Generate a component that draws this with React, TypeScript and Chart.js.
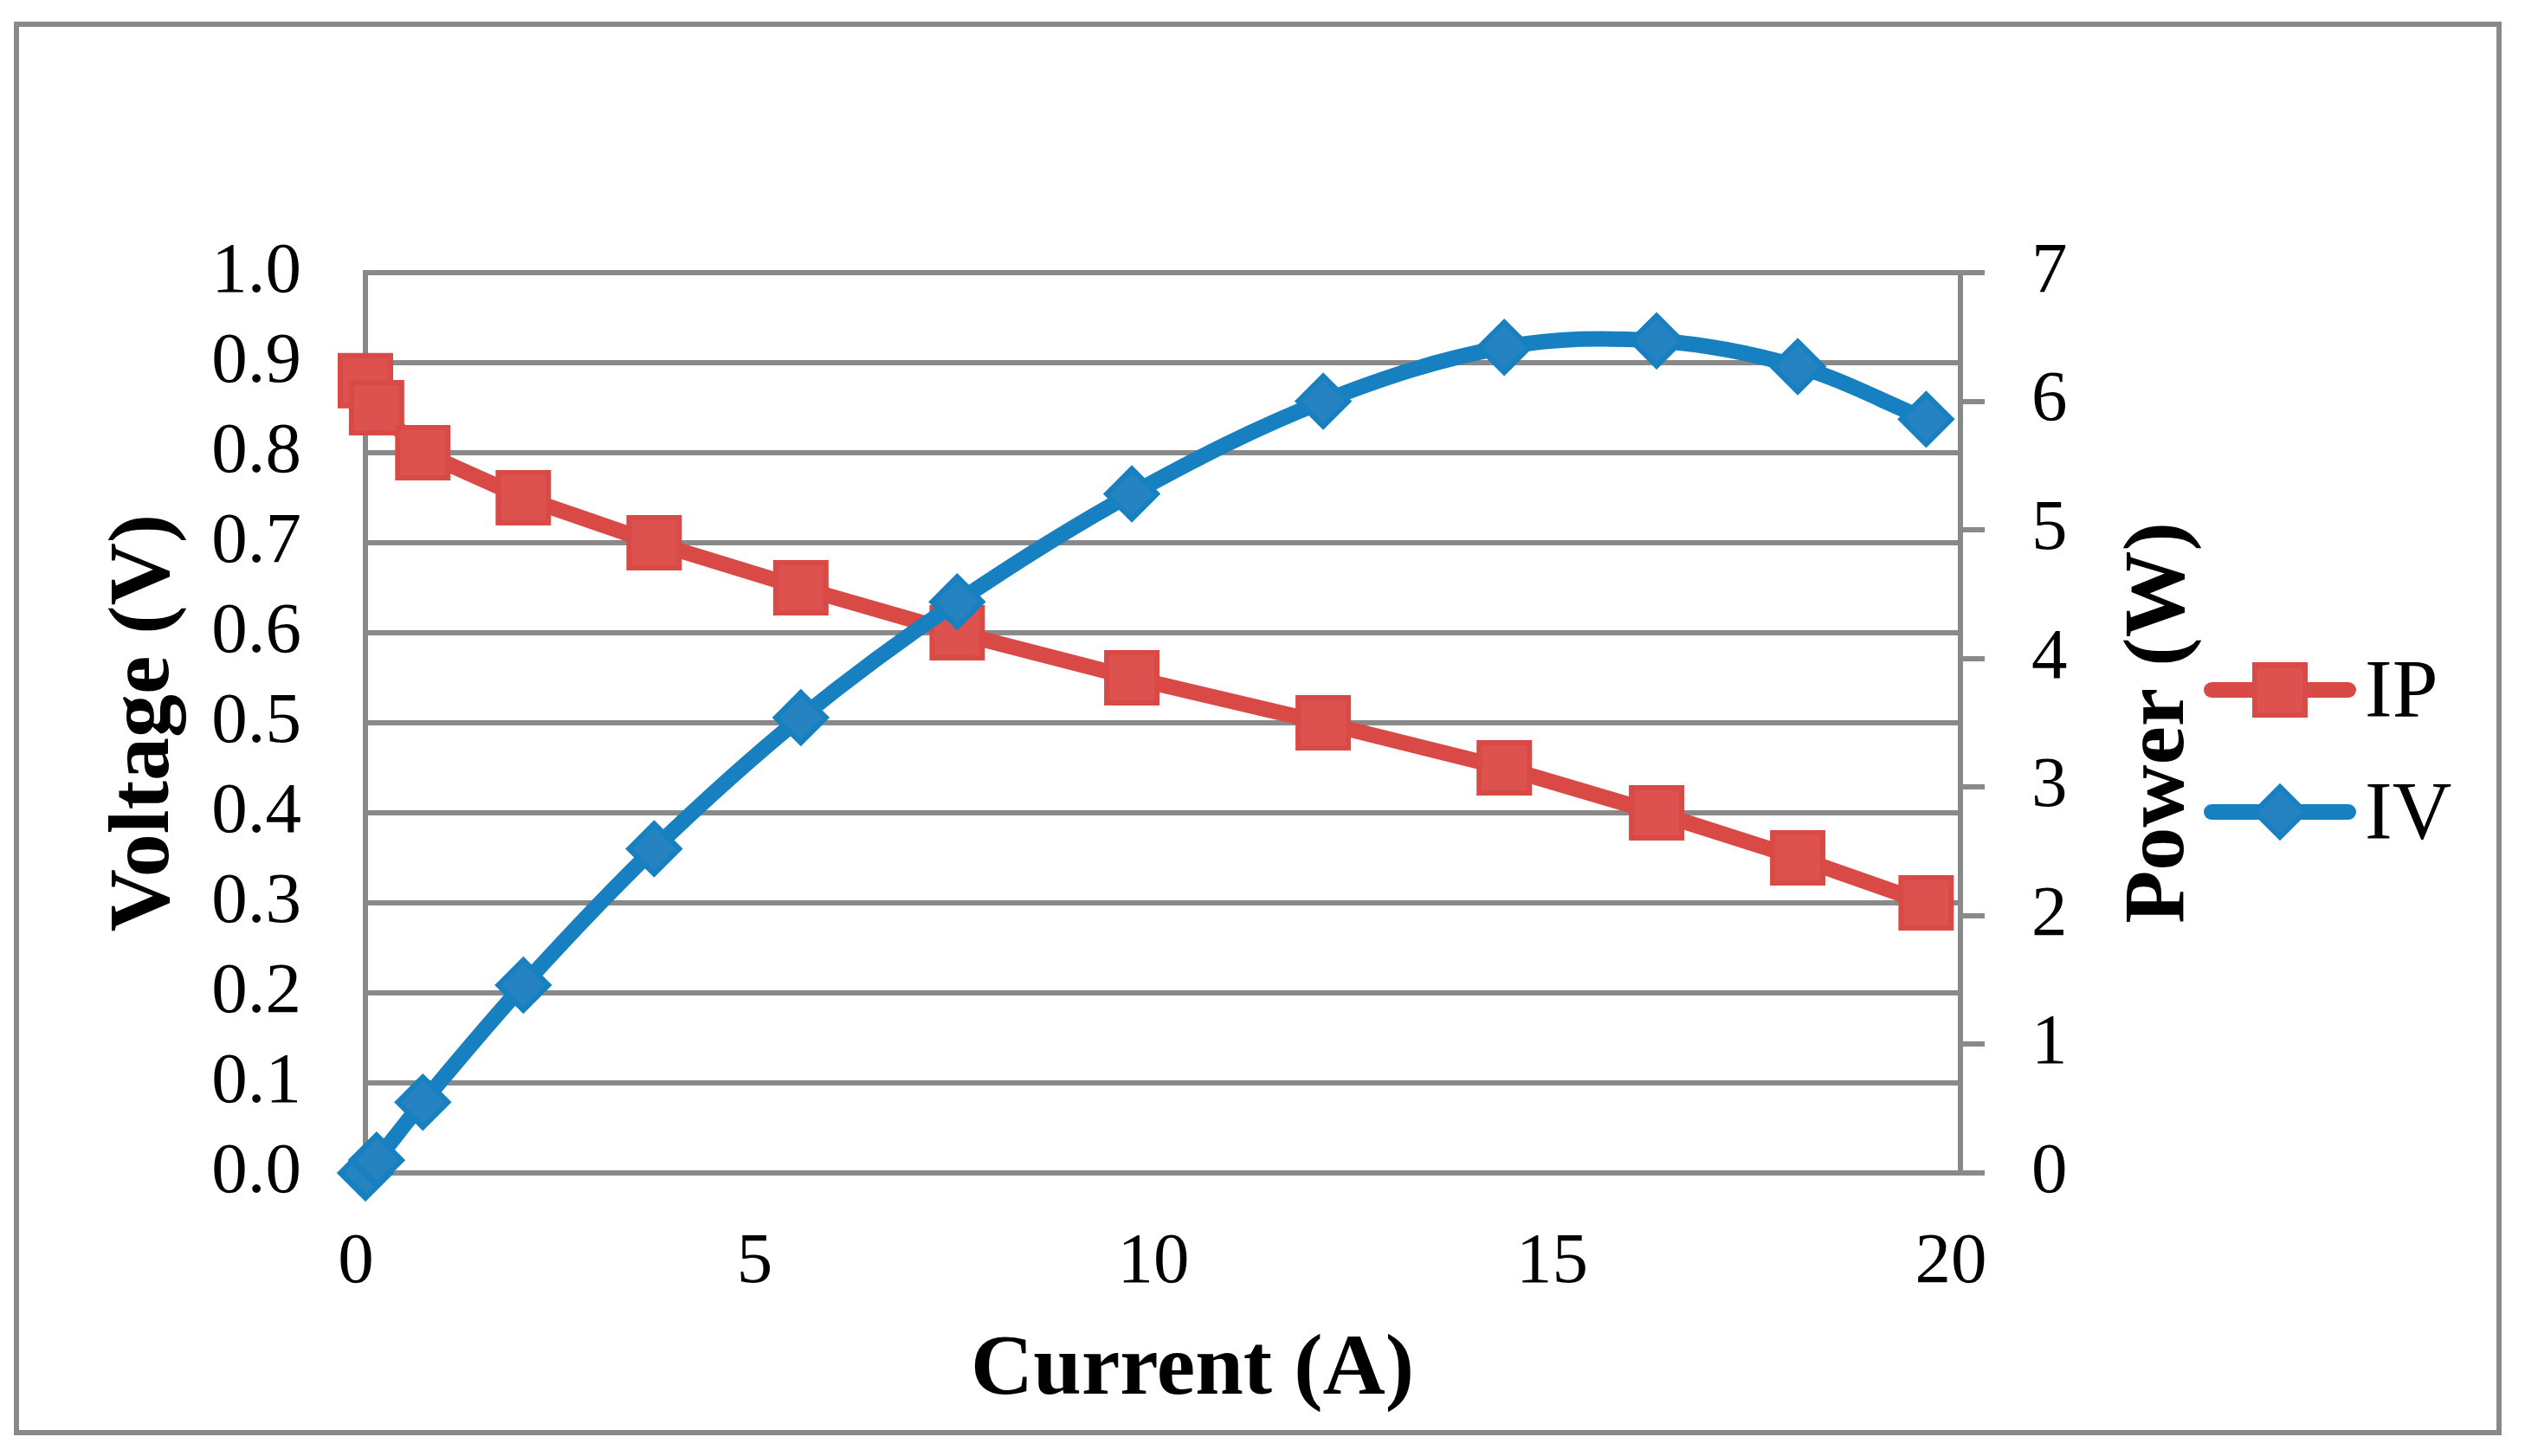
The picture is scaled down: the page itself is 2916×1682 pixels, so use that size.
import React, { useEffect, useRef } from 'react';
import { Chart, registerables } from 'chart.js';
import { drawPoint } from 'chart.js/helpers';

Chart.register(...registerables);

// ---- data ----
const currentA = [0, 0.14, 0.72, 1.98, 3.62, 5.46, 7.42, 9.61, 12.01, 14.28, 16.19, 17.96, 19.57];
const voltageV = [0.88, 0.85, 0.8, 0.75, 0.7, 0.65, 0.6, 0.55, 0.5, 0.45, 0.4, 0.35, 0.3];
const powerW = [0, 0.1, 0.55, 1.46, 2.52, 3.54, 4.44, 5.28, 6.0, 6.42, 6.47, 6.27, 5.86];
const seriesLabels = ['IP', 'IV'];
const xTitle = 'Current (A)';
const yTitle = 'Voltage (V)';
const y1Title = 'Power (W)';

// ---- styling ----
const W = 2916;
const H = 1682;
const GRID = '#898989';
const FONT = "'Liberation Serif', 'Times New Roman', Times, serif";
const RED_LINE = '#D94A47';
const RED_FILL = '#DD514E';
const BLUE_LINE = '#1780C1';
const BLUE_FILL = '#2683C2';

const framePlugin = {
  id: 'frame',
  beforeDraw(chart: any) {
    const ctx = chart.ctx;
    ctx.save();
    ctx.fillStyle = '#ffffff';
    ctx.fillRect(0, 0, chart.width, chart.height);
    ctx.strokeStyle = GRID;
    ctx.lineWidth = 6;
    ctx.strokeRect(19, 28, 2886 - 19, 1655 - 28);
    ctx.restore();
  },
};

const extrasPlugin = {
  id: 'extras',
  afterDraw(chart: any) {
    const ctx = chart.ctx;
    const area = chart.chartArea;
    ctx.save();
    ctx.fillStyle = '#000';
    // x axis title
    ctx.font = `bold 100px ${FONT}`;
    ctx.textAlign = 'center';
    ctx.textBaseline = 'alphabetic';
    ctx.fillText(xTitle, (area.left + area.right) / 2 + 34, 1610);
    // right axis title, reading bottom to top
    ctx.save();
    ctx.translate(2521, (area.top + area.bottom) / 2);
    ctx.rotate(-Math.PI / 2);
    ctx.fillText(y1Title, 0, 0);
    ctx.restore();

    // legend
    const rows = [797, 938];
    chart.data.datasets.forEach((ds: any, i: number) => {
      const y = rows[i];
      ctx.strokeStyle = ds.borderColor;
      ctx.lineWidth = ds.borderWidth;
      ctx.lineCap = 'round';
      ctx.beginPath();
      ctx.moveTo(2554, y);
      ctx.lineTo(2712, y);
      ctx.stroke();
      ctx.fillStyle = ds.pointBackgroundColor;
      ctx.strokeStyle = ds.pointBorderColor;
      ctx.lineWidth = ds.pointBorderWidth;
      ctx.lineCap = 'butt';
      drawPoint(ctx, { pointStyle: ds.pointStyle, rotation: 0, radius: ds.pointRadius, borderWidth: ds.pointBorderWidth }, 2633, y);
      ctx.fillStyle = '#000';
      ctx.font = `95px ${FONT}`;
      ctx.textAlign = 'left';
      ctx.textBaseline = 'alphabetic';
      ctx.fillText(ds.label, 2731, y + 31);
    });
    ctx.restore();
  },
};

export default function App() {
  const ref = useRef<HTMLCanvasElement>(null);

  useEffect(() => {
    document.body.style.margin = '0';
    const canvas = ref.current;
    if (!canvas) return;
    const chart = new Chart(canvas, {
      type: 'line',
      data: {
        datasets: [
          {
            label: seriesLabels[0],
            data: currentA.map((x, i) => ({ x, y: voltageV[i] })),
            yAxisID: 'y',
            borderColor: RED_LINE,
            backgroundColor: RED_FILL,
            borderWidth: 18,
            borderJoinStyle: 'round',
            borderCapStyle: 'round',
            tension: 0,
            pointStyle: 'rect',
            pointRadius: 41,
            pointBackgroundColor: RED_FILL,
            pointBorderColor: RED_LINE,
            pointBorderWidth: 6,
            clip: false,
            order: 2,
          },
          {
            label: seriesLabels[1],
            data: currentA.map((x, i) => ({ x, y: powerW[i] })),
            yAxisID: 'y1',
            borderColor: BLUE_LINE,
            backgroundColor: BLUE_FILL,
            borderWidth: 18,
            borderJoinStyle: 'round',
            borderCapStyle: 'round',
            tension: 0.35,
            pointStyle: 'rectRot',
            pointRadius: 29,
            pointBackgroundColor: BLUE_FILL,
            pointBorderColor: BLUE_LINE,
            pointBorderWidth: 6,
            clip: false,
            order: 1,
          },
        ] as any,
      },
      options: {
        animation: false,
        responsive: false,
        devicePixelRatio: 1,
        events: [],
        layout: { padding: { top: 315, left: 0, right: 0, bottom: 0 } },
        plugins: {
          legend: { display: false },
          tooltip: { enabled: false },
          title: { display: false },
        },
        scales: {
          x: {
            type: 'linear',
            min: 0,
            max: 20,
            afterFit: (s: any) => {
              s.height = 1682 - 1355;
            },
            grid: { display: false },
            border: { display: false },
            ticks: {
              stepSize: 5,
              padding: 46,
              labelOffset: -11,
              color: '#000',
              font: { family: FONT, size: 83 },
            },
          },
          y: {
            type: 'linear',
            position: 'left',
            min: 0,
            max: 1,
            afterFit: (s: any) => {
              s.width = 422;
            },
            grid: { color: GRID, lineWidth: 6, drawTicks: false },
            border: { display: true, color: GRID, width: 6 },
            ticks: {
              stepSize: 0.1,
              padding: 74,
              color: '#000',
              font: { family: FONT, size: 83 },
              callback: (v: any) => Number(v).toFixed(1),
            },
            title: {
              display: true,
              text: yTitle,
              color: '#000',
              font: { family: FONT, size: 100, weight: 'bold' },
              padding: { top: 108, bottom: 0 },
            },
          },
          y1: {
            type: 'linear',
            position: 'right',
            min: 0,
            max: 7,
            afterFit: (s: any) => {
              s.width = 2916 - 2264;
            },
            grid: {
              drawOnChartArea: false,
              drawTicks: true,
              tickLength: 28,
              color: GRID,
              lineWidth: 6,
            },
            border: { display: true, color: GRID, width: 6 },
            ticks: {
              stepSize: 1,
              padding: 54,
              color: '#000',
              font: { family: FONT, size: 83 },
            },
          },
        },
      } as any,
      plugins: [framePlugin, extrasPlugin],
    });
    return () => chart.destroy();
  }, []);

  return (
    <div style={{ position: 'absolute', left: 0, top: 0, width: W, height: H, background: '#fff' }}>
      <canvas ref={ref} width={W} height={H} style={{ width: W, height: H, display: 'block' }} />
    </div>
  );
}
